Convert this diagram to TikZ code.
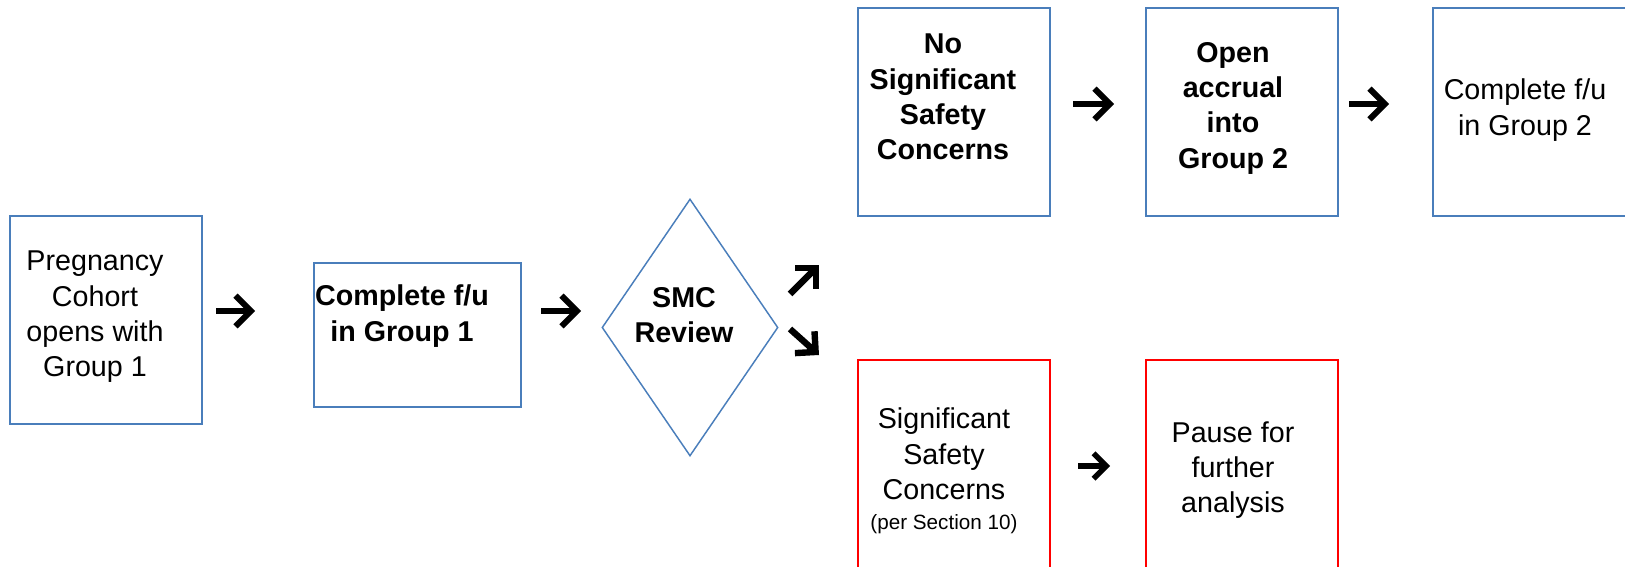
\documentclass[tikz,border=0pt]{standalone}
\usepackage{fontspec}
\setmainfont{Liberation Sans}
\usetikzlibrary{arrows.meta,shapes.geometric}
\definecolor{boxblue}{RGB}{74,126,187}
\definecolor{boxred}{RGB}{255,0,0}
\newcommand{\flowfont}{\fontsize{21.5pt}{26.5pt}\selectfont}
\newcommand{\notefont}{\fontsize{15.5pt}{18pt}\selectfont}

\begin{document}
\begin{tikzpicture}[x=0.75pt,y=-0.75pt,
  frame/.style={draw=boxblue,line width=1.4pt,minimum width=144pt,minimum height=156pt,inner sep=0pt},
  redframe/.style={frame,draw=boxred},
  txt/.style={align=center,inner sep=0pt,font=\flowfont},
  go/.style={line width=4.5pt,-{Straight Barb[sharp,length=11.5pt,width=23pt]}},
  goslant/.style={line width=4.8pt,-{Straight Barb[sharp,length=11pt,width=22pt]}},
  gosmall/.style={line width=4pt,-{Straight Barb[sharp,length=9.5pt,width=19pt]}}]
\useasboundingbox (0,0) rectangle (1625,567);

% boxes
\node[frame] (cohort) at (106,320) {};
\node[frame,minimum width=155.25pt,minimum height=108pt] (grpone) at (417.5,335) {};
\node[diamond,draw=boxblue,line width=1.1pt,minimum width=132pt,minimum height=192.75pt,inner sep=0pt] (smc) at (690,327.5) {};
\node[frame] (nosig) at (954,112) {};
\node[frame] (accrual) at (1242,112) {};
\node[frame,minimum width=150pt] (grptwo) at (1533,112) {};
\node[redframe,minimum height=157.5pt] (sig) at (954,465) {};
\node[redframe,minimum height=157.5pt] (pause) at (1242,465) {};

% texts
\node[txt] (cohorttxt) at (95,317) {Pregnancy\\Cohort\\opens with\\Group 1};
\node[txt,font=\flowfont\bfseries] (grponetxt) at (402,316) {Complete f/u\\in Group 1};
\node[txt,font=\flowfont\bfseries] (smctxt) at (684,315) {SMC\\Review};
\node[txt,font=\flowfont\bfseries] (nosigtxt) at (943,97) {No\\Significant\\Safety\\Concerns};
\node[txt,font=\flowfont\bfseries] (accrualtxt) at (1233,108) {Open\\accrual\\into\\Group 2};
\node[txt] (grptwotxt) at (1525,110) {Complete f/u\\in Group 2};
\node[txt] (sigtxt) at (944,471) {Significant\\Safety\\Concerns\\[-4pt]{\notefont(per Section 10)}};
\node[txt] (pausetxt) at (1233,470) {Pause for\\further\\analysis};

% arrows
\coordinate (aone) at (216,311);   \coordinate (aoneend) at (255,311);
\coordinate (atwo) at (541,311);   \coordinate (atwoend) at (581,311);
\coordinate (aup) at (790,294);    \coordinate (aupend) at (819,265);
\coordinate (adown) at (790,329);  \coordinate (adownend) at (819,355);
\coordinate (athree) at (1073,104); \coordinate (athreeend) at (1114,104);
\coordinate (afour) at (1349,104); \coordinate (afourend) at (1389,104);
\coordinate (afive) at (1078,466); \coordinate (afiveend) at (1110,466);
\draw[go] (aone) -- (aoneend);
\draw[go] (atwo) -- (atwoend);
\draw[goslant] (aup) -- (aupend);
\draw[goslant] (adown) -- (adownend);
\draw[go] (athree) -- (athreeend);
\draw[go] (afour) -- (afourend);
\draw[gosmall] (afive) -- (afiveend);
\end{tikzpicture}
\end{document}
